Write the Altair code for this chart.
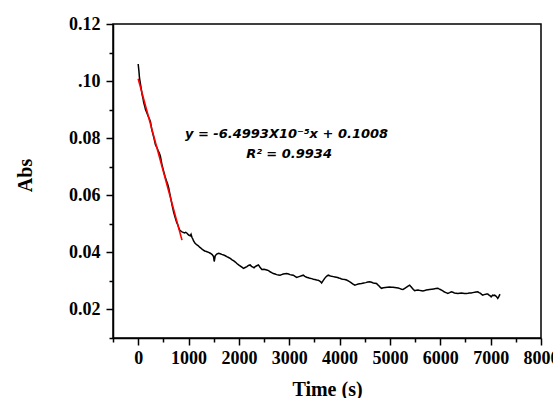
import altair as alt
import pandas as pd

# ---- data ----
time_s = [0, 15, 26, 50, 79, 95, 110, 130, 145, 170, 200, 222, 244, 270, 297, 320, 343, 370,
          400, 420, 442, 475, 508, 535, 560, 585, 607, 640, 673, 705, 739, 765, 790, 810, 825,
          850, 871, 895, 920, 945, 970, 990, 1010, 1036, 1050, 1069, 1085, 1100, 1130, 1168,
          1195, 1220, 1245, 1267, 1295, 1320, 1345, 1366, 1400, 1432, 1470, 1497, 1510, 1530,
          1560, 1596, 1630, 1660, 1695, 1730, 1760, 1795, 1828, 1865, 1900, 1930, 1960, 1995,
          2030, 2060, 2091, 2125, 2160, 2190, 2224, 2250, 2280, 2300, 2323, 2355, 2388, 2420,
          2455, 2500, 2554, 2590, 2620, 2650, 2685, 2720, 2750, 2785, 2818, 2850, 2880, 2915,
          2950, 2985, 3016, 3050, 3081, 3115, 3148, 3180, 3210, 3245, 3279, 3310, 3345, 3380,
          3412, 3445, 3480, 3510, 3545, 3575, 3600, 3625, 3643, 3670, 3700, 3740, 3774, 3805,
          3840, 3875, 3907, 3935, 3960, 3985, 4006, 4040, 4070, 4105, 4139, 4180, 4220, 4260,
          4303, 4335, 4370, 4400, 4436, 4480, 4520, 4560, 4600, 4635, 4670, 4700, 4733, 4755,
          4780, 4805, 4832, 4870, 4910, 4950, 4996, 5030, 5060, 5095, 5129, 5165, 5200, 5230,
          5259, 5295, 5330, 5360, 5392, 5415, 5440, 5465, 5491, 5525, 5560, 5605, 5655, 5690,
          5720, 5755, 5788, 5830, 5870, 5910, 5953, 5975, 6000, 6025, 6051, 6075, 6100, 6125,
          6150, 6185, 6218, 6250, 6280, 6315, 6349, 6385, 6420, 6450, 6481, 6515, 6550, 6580,
          6614, 6645, 6680, 6710, 6745, 6770, 6800, 6820, 6844, 6870, 6900, 6920, 6943, 6960,
          6980, 6995, 7010, 7025, 7040, 7060, 7075, 7095, 7110, 7125, 7141, 7160, 7175, 7188]
absorbance = [0.1060, 0.1035, 0.1011, 0.0985, 0.0952, 0.0940, 0.0925, 0.0912, 0.0900, 0.0890,
              0.0876, 0.0868, 0.0858, 0.0830, 0.0812, 0.0795, 0.0777, 0.0768, 0.0755, 0.0748,
              0.0736, 0.0705, 0.0683, 0.0665, 0.0652, 0.0640, 0.0625, 0.0595, 0.0566, 0.0540,
              0.0519, 0.0505, 0.0495, 0.0484, 0.0478, 0.0474, 0.0472, 0.0470, 0.0468, 0.0470,
              0.0467, 0.0463, 0.0460, 0.0458, 0.0463, 0.0452, 0.0447, 0.0440, 0.0432, 0.0426,
              0.0423, 0.0418, 0.0415, 0.0411, 0.0408, 0.0405, 0.0404, 0.0402, 0.0400, 0.0397,
              0.0392, 0.0385, 0.0368, 0.0388, 0.0394, 0.0397, 0.0395, 0.0393, 0.0391, 0.0388,
              0.0385, 0.0382, 0.0379, 0.0374, 0.0370, 0.0366, 0.0361, 0.0356, 0.0352, 0.0348,
              0.0344, 0.0347, 0.0350, 0.0354, 0.0356, 0.0351, 0.0348, 0.0346, 0.0350, 0.0353,
              0.0356, 0.0348, 0.0340, 0.0341, 0.0338, 0.0336, 0.0332, 0.0329, 0.0326, 0.0324,
              0.0322, 0.0321, 0.0320, 0.0322, 0.0324, 0.0325, 0.0326, 0.0324, 0.0322, 0.0321,
              0.0320, 0.0316, 0.0312, 0.0314, 0.0316, 0.0318, 0.0320, 0.0316, 0.0313, 0.0311,
              0.0309, 0.0308, 0.0306, 0.0305, 0.0303, 0.0302, 0.0300, 0.0297, 0.0293, 0.0300,
              0.0308, 0.0316, 0.0320, 0.0318, 0.0316, 0.0315, 0.0314, 0.0313, 0.0312, 0.0310,
              0.0309, 0.0307, 0.0306, 0.0305, 0.0303, 0.0299, 0.0295, 0.0290, 0.0285, 0.0287,
              0.0289, 0.0290, 0.0291, 0.0293, 0.0294, 0.0296, 0.0297, 0.0295, 0.0293, 0.0292,
              0.0291, 0.0287, 0.0283, 0.0278, 0.0274, 0.0276, 0.0277, 0.0278, 0.0279, 0.0278,
              0.0278, 0.0277, 0.0276, 0.0275, 0.0273, 0.0271, 0.0270, 0.0274, 0.0278, 0.0282,
              0.0285, 0.0280, 0.0275, 0.0270, 0.0266, 0.0267, 0.0268, 0.0266, 0.0265, 0.0266,
              0.0268, 0.0269, 0.0270, 0.0271, 0.0272, 0.0273, 0.0274, 0.0272, 0.0270, 0.0268,
              0.0265, 0.0262, 0.0260, 0.0258, 0.0256, 0.0259, 0.0262, 0.0260, 0.0258, 0.0257,
              0.0256, 0.0257, 0.0258, 0.0257, 0.0256, 0.0256, 0.0257, 0.0258, 0.0258, 0.0259,
              0.0260, 0.0261, 0.0262, 0.0259, 0.0256, 0.0253, 0.0250, 0.0252, 0.0253, 0.0254,
              0.0254, 0.0251, 0.0249, 0.0247, 0.0244, 0.0247, 0.0250, 0.0249, 0.0250, 0.0248,
              0.0246, 0.0243, 0.0239, 0.0244, 0.0250, 0.0253]

fit_time = [0, 870]
fit_abs = [0.1008, 0.0443]

x_major = [0, 1000, 2000, 3000, 4000, 5000, 6000, 7000, 8000]
x_minor = [-500, 500, 1500, 2500, 3500, 4500, 5500, 6500, 7500]
y_major = [0.02, 0.04, 0.06, 0.08, 0.10, 0.12]
y_minor = [0.01, 0.03, 0.05, 0.07, 0.09, 0.11]

ann_time = [2946, 2996]
ann_abs = [0.0801, 0.0731]
ann_text = ["y = -6.4993X10\u207b\u2075x + 0.1008", "R\u00b2 = 0.9934"]

data = pd.DataFrame({"t": time_s, "a": absorbance})
fit = pd.DataFrame({"t": fit_time, "a": fit_abs})
ann = pd.DataFrame({"t": ann_time, "a": ann_abs, "label": ann_text})

SERIF = "Liberation Serif"

x_scale = alt.Scale(domain=[-500, 8000], nice=False, zero=False)
y_scale = alt.Scale(domain=[0.01, 0.12], nice=False, zero=False)

x_axis = alt.Axis(
    title="Time (s)", orient="bottom",
    values=x_major, format="d", tickSize=7,
    labelPadding=4, labelOverlap=False, labelFlush=False,
    titleBaseline="alphabetic", titleY=57, grid=False,
)
y_axis = alt.Axis(
    title="Abs", orient="left",
    values=y_major,
    labelExpr="round(datum.value*100) == 10 ? '.10' : format(datum.value, '.2f')",
    tickSize=7, labelPadding=6, labelOverlap=False, labelFlush=False,
    titleBaseline="alphabetic", titleAlign="center", titleX=-82, titleY=151, grid=False,
)
x_axis_minor = alt.Axis(title=None, orient="bottom", values=x_minor, tickSize=4,
                        labels=False, domain=False, grid=False)
y_axis_minor = alt.Axis(title=None, orient="left", values=y_minor, tickSize=4,
                        labels=False, domain=False, grid=False)

line = alt.Chart(data).mark_line(color="black", strokeWidth=1.5).encode(
    x=alt.X("t:Q", scale=x_scale, axis=x_axis),
    y=alt.Y("a:Q", scale=y_scale, axis=y_axis),
)
fit_line = alt.Chart(fit).mark_line(color="#ff0000", strokeWidth=1.6).encode(
    x=alt.X("t:Q", scale=x_scale, axis=x_axis_minor),
    y=alt.Y("a:Q", scale=y_scale, axis=y_axis_minor),
)
text = alt.Chart(ann).mark_text(
    font="DejaVu Sans", fontWeight="bold", fontStyle="italic", fontSize=13,
    align="center", baseline="alphabetic", color="black",
).encode(
    x=alt.X("t:Q", scale=x_scale, axis=None),
    y=alt.Y("a:Q", scale=y_scale, axis=None),
    text="label:N",
)

chart = alt.layer(line, fit_line, text).resolve_axis(
    x="independent", y="independent"
).properties(
    width=428, height=314,
    autosize=alt.AutoSizeParams(type="none"),
    padding={"left": 113, "top": 24, "right": 12, "bottom": 60},
    background="white",
).configure_view(
    stroke="black", strokeWidth=1.5,
).configure_axis(
    labelFont=SERIF, labelFontWeight="bold", labelFontSize=18, labelColor="black",
    titleFont=SERIF, titleFontWeight="bold", titleFontSize=20, titleColor="black",
    domainColor="black", domainWidth=1.5, tickColor="black", tickWidth=1.5,
)

chart.save("out.html", embed_options={"renderer": "svg", "actions": False})
